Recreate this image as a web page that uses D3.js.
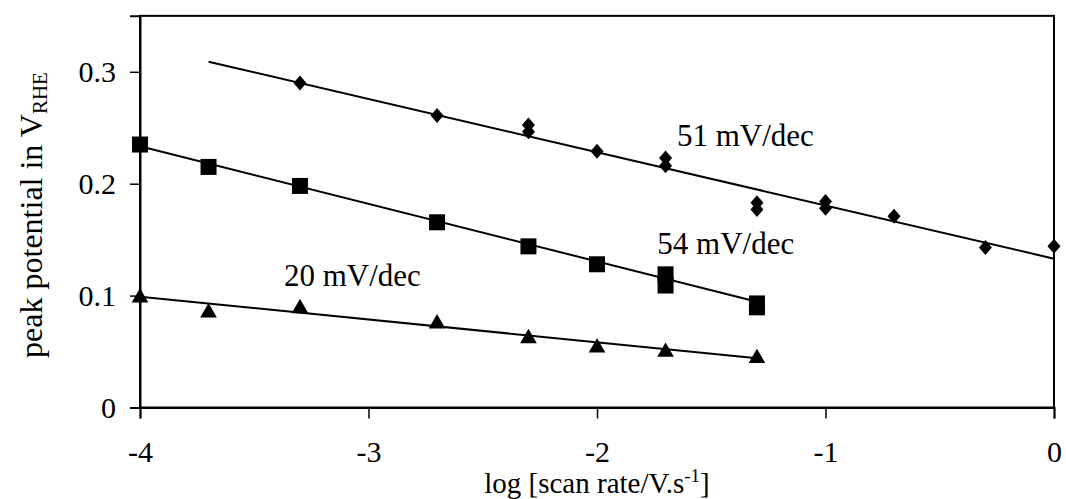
<!DOCTYPE html>
<html><head><meta charset="utf-8">
<script src="https://cdn.jsdelivr.net/npm/d3@7"></script>
<style>body{margin:0;background:#fff}svg text{font-family:"Liberation Serif","Times New Roman",serif;fill:#000}</style>
</head><body><svg id="c" width="1066" height="499"></svg>
<script>
// data
const xTicks = [-4, -3, -2, -1, 0];
const yTicks = [0, 0.1, 0.2, 0.3];
const diamondX = [-3.3, -2.7, -2.3, -2.3, -2.0, -1.7, -1.7, -1.3, -1.3, -1.0, -1.0, -0.7, -0.3, 0];
const diamondY = [0.290, 0.261, 0.2525, 0.2465, 0.229, 0.223, 0.216, 0.183, 0.177, 0.184, 0.178, 0.171, 0.143, 0.144];
const squareX = [-4, -3.7, -3.3, -2.7, -2.3, -2.0, -1.7, -1.7, -1.3, -1.3];
const squareY = [0.235, 0.215, 0.198, 0.1655, 0.144, 0.128, 0.119, 0.109, 0.093, 0.0895];
const triX = [-4, -3.7, -3.3, -2.7, -2.3, -2.0, -1.7, -1.3];
const triY = [0.099, 0.0856, 0.0895, 0.0758, 0.0627, 0.0543, 0.0505, 0.0449];
const fitDiamond = [[-3.7, 0.309], [0, 0.133]];
const fitSquare = [[-4, 0.2335], [-1.3, 0.0945]];
const fitTri = [[-4, 0.099], [-1.3, 0.044]];
const labels = [
  {text: "51 mV/dec", x: -1.65, y: 0.234},
  {text: "54 mV/dec", x: -1.736, y: 0.1375},
  {text: "20 mV/dec", x: -3.37, y: 0.1086}
];

const svg = d3.select("#c");
const L = 140, R = 1054, B = 407.5;
const x = d3.scaleLinear().domain([-4, 0]).range([L, R]);
const y = d3.scaleLinear().domain([0, 0.35]).range([B, B - 0.35 * 1119]);

// box
svg.append("rect").attr("x", L).attr("y", y(0.35)).attr("width", R - L).attr("height", B - y(0.35))
  .attr("fill", "none").attr("stroke", "#000").attr("stroke-width", 2);

// axes
const xa = svg.append("g").attr("transform", `translate(0,${B})`)
  .call(d3.axisBottom(x).tickValues(xTicks).tickSize(11).tickPadding(22).tickFormat(d => String(d)));
const ya = svg.append("g").attr("transform", `translate(${L},0)`)
  .call(d3.axisLeft(y).tickValues(yTicks).tickSize(10).tickPadding(14).tickFormat(d => d === 0 ? "0" : d3.format(".1f")(d)));
[xa, ya].forEach(a => {
  a.attr("font-family", null).attr("font-size", null);
  a.select(".domain").attr("stroke-width", 2);
  a.selectAll(".tick line").attr("stroke-width", 1.5);
  a.selectAll("text").style("font-size", "30px");
});

// fit lines
const line = d3.line().x(d => x(d[0])).y(d => y(d[1]));
[fitDiamond, fitSquare, fitTri].forEach(f => {
  svg.append("path").attr("d", line(f)).attr("fill", "none").attr("stroke", "#000").attr("stroke-width", 2);
});

// markers
const sq = d3.symbol().type(d3.symbolSquare).size(256);
const tri = d3.symbol().type(d3.symbolTriangle).size(120);
svg.append("g").selectAll("path").data(squareX.map((v, i) => [v, squareY[i]])).join("path")
  .attr("d", sq).attr("transform", d => `translate(${x(d[0])},${y(d[1])})`).attr("fill", "#000");
svg.append("g").selectAll("path").data(triX.map((v, i) => [v, triY[i]])).join("path")
  .attr("d", tri).attr("transform", d => `translate(${x(d[0])},${y(d[1]) + 1})`).attr("fill", "#000");
svg.append("g").selectAll("path").data(diamondX.map((v, i) => [v, diamondY[i]])).join("path")
  .attr("d", "M0,-7.5L6.5,0L0,7.5L-6.5,0Z").attr("transform", d => `translate(${x(d[0])},${y(d[1])})`).attr("fill", "#000");

// annotations
svg.append("g").selectAll("text").data(labels).join("text")
  .attr("x", d => x(d.x)).attr("y", d => y(d.y)).style("font-size", "31px").text(d => d.text);

// axis titles
const xt = svg.append("text").attr("x", 597).attr("y", 493).attr("text-anchor", "middle").style("font-size", "29px");
xt.append("tspan").text("log [scan rate/V.s");
xt.append("tspan").attr("dy", -11).style("font-size", "19px").text("-1");
xt.append("tspan").attr("dy", 11).text("]");

const yt = svg.append("text").attr("transform", "translate(42,215) rotate(-90)").attr("text-anchor", "middle").style("font-size", "32px");
yt.append("tspan").text("peak potential in V");
yt.append("tspan").attr("dy", 5).style("font-size", "21px").text("RHE");
</script></body></html>
